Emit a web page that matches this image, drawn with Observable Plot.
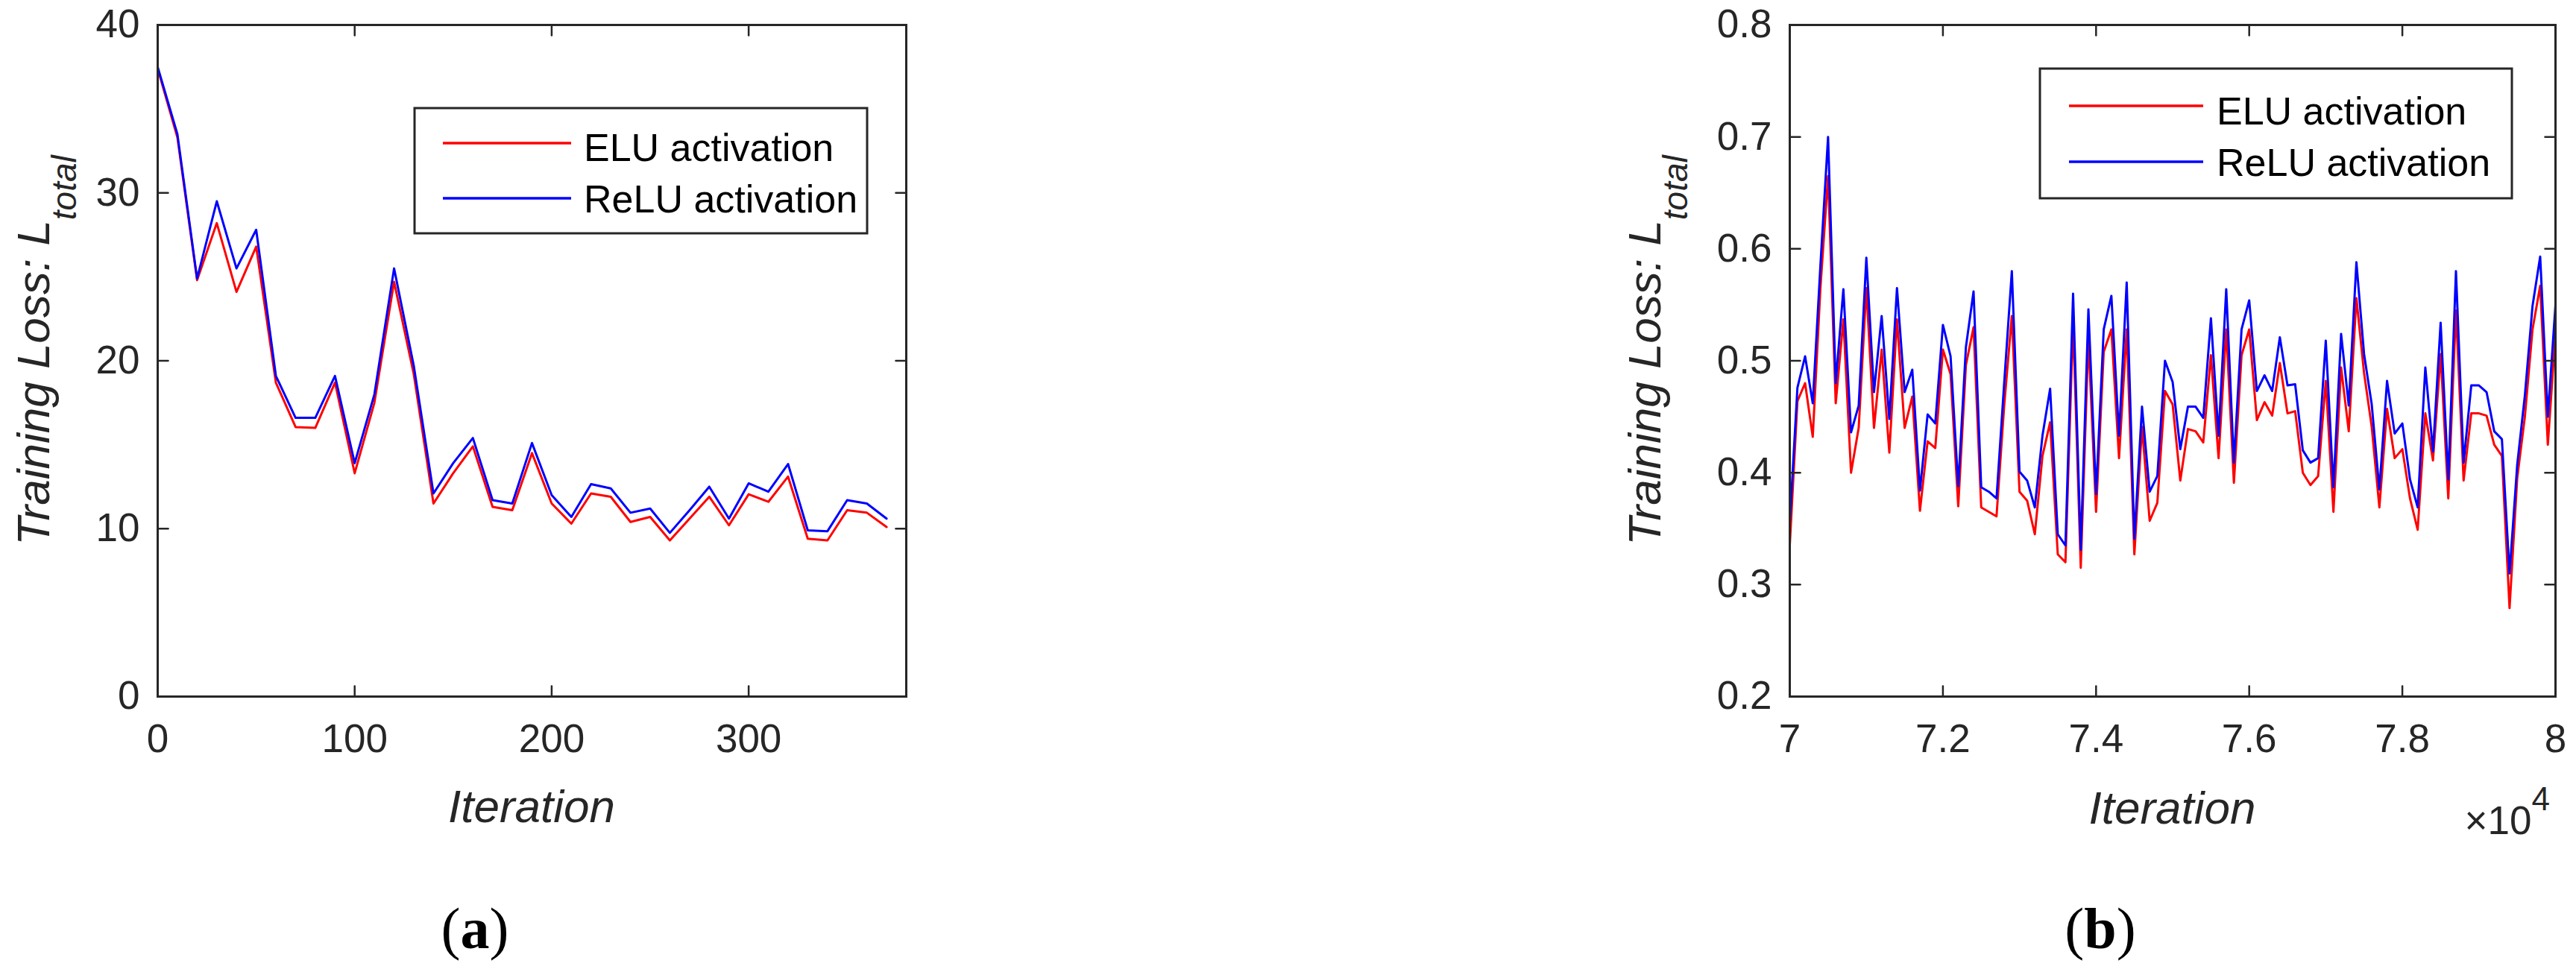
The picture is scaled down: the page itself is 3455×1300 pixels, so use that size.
<!DOCTYPE html>
<html>
<head>
<meta charset="utf-8">
<script src="https://cdn.jsdelivr.net/npm/d3@7"></script>
<script src="https://cdn.jsdelivr.net/npm/@observablehq/plot@0.6"></script>
<style>
  html, body { margin: 0; padding: 0; background: #fff; }
  #page { position: relative; width: 3455px; height: 1300px; overflow: hidden; background: #fff; }
  .panel { position: absolute; top: 0; }
  .cap { position: absolute; top: 1207px; font-family: "Liberation Serif", "Times New Roman", serif; font-size: 78px; color: #000; transform: translateX(-50%); line-height: 1; white-space: nowrap; }
  .cap b { font-weight: bold; }
</style>
</head>
<body>
<div id="page">
  <div class="panel" id="left" style="left:0px"></div>
  <div class="panel" id="right" style="left:2100px"></div>
  <div class="cap" style="left:637px">(<b>a</b>)</div>
  <div class="cap" style="left:2817px">(<b>b</b>)</div>
</div>
<script>
// ---------- data: panel (a) ----------
const iterA = [0,10,20,30,40,50,60,70,80,90,100,110,120,130,140,150,160,170,180,190,200,210,220,230,240,250,260,270,280,290,300,310,320,330,340,350,360,370];
const eluA  = [37.4,33.3,24.8,28.2,24.1,26.8,18.7,16.05,16.0,18.7,13.3,17.5,24.7,19.2,11.5,13.3,14.9,11.3,11.1,14.5,11.5,10.3,12.1,11.9,10.4,10.7,9.3,10.6,11.9,10.2,12.05,11.6,13.1,9.4,9.3,11.1,10.95,10.1];
const reluA = [37.5,33.5,24.9,29.5,25.5,27.8,19.1,16.6,16.6,19.1,13.9,18.0,25.5,19.7,12.1,13.9,15.4,11.7,11.5,15.1,12.0,10.7,12.65,12.4,10.95,11.2,9.75,11.1,12.5,10.6,12.7,12.2,13.85,9.9,9.85,11.7,11.5,10.6];
const xTicksA = [0,100,200,300];
const xTickLabelsA = ["0","100","200","300"];
const yTicksA = [0,10,20,30,40];
const yTickLabelsA = ["0","10","20","30","40"];

// ---------- data: panel (b) ----------
const iterB = [70000,70100,70200,70300,70400,70500,70600,70700,70800,70900,71000,71100,71200,71300,71400,71500,71600,71700,71800,71900,72000,72100,72200,72300,72400,72500,72600,72700,72800,72900,73000,73100,73200,73300,73400,73500,73600,73700,73800,73900,74000,74100,74200,74300,74400,74500,74600,74700,74800,74900,75000,75100,75200,75300,75400,75500,75600,75700,75800,75900,76000,76100,76200,76300,76400,76500,76600,76700,76800,76900,77000,77100,77200,77300,77400,77500,77600,77700,77800,77900,78000,78100,78200,78300,78400,78500,78600,78700,78800,78900,79000,79100,79200,79300,79400,79500,79600,79700,79800,79900,80000];
const eluB = [0.335,0.464,0.48,0.432,0.565,0.665,0.462,0.537,0.40,0.44,0.565,0.44,0.51,0.418,0.537,0.44,0.468,0.366,0.428,0.422,0.51,0.488,0.37,0.496,0.53,0.369,0.365,0.361,0.46,0.54,0.383,0.375,0.345,0.415,0.445,0.327,0.32,0.535,0.315,0.52,0.365,0.508,0.528,0.413,0.528,0.327,0.441,0.357,0.373,0.473,0.461,0.393,0.439,0.437,0.427,0.505,0.413,0.528,0.391,0.505,0.528,0.447,0.463,0.451,0.498,0.453,0.455,0.40,0.389,0.397,0.482,0.365,0.494,0.437,0.556,0.489,0.441,0.369,0.457,0.413,0.421,0.377,0.349,0.453,0.411,0.506,0.377,0.545,0.393,0.453,0.453,0.451,0.425,0.415,0.279,0.395,0.45,0.528,0.567,0.425,0.525];
const reluB = [0.355,0.476,0.504,0.462,0.585,0.70,0.48,0.564,0.436,0.46,0.592,0.472,0.54,0.448,0.565,0.472,0.492,0.384,0.452,0.444,0.532,0.504,0.388,0.512,0.562,0.387,0.383,0.377,0.48,0.58,0.401,0.393,0.369,0.433,0.475,0.345,0.335,0.56,0.331,0.546,0.381,0.528,0.558,0.433,0.570,0.341,0.459,0.383,0.397,0.50,0.481,0.421,0.459,0.459,0.449,0.538,0.433,0.564,0.409,0.528,0.554,0.473,0.487,0.473,0.521,0.478,0.479,0.42,0.409,0.413,0.518,0.387,0.524,0.46,0.588,0.506,0.461,0.385,0.482,0.435,0.444,0.394,0.369,0.494,0.419,0.534,0.394,0.58,0.409,0.478,0.478,0.472,0.437,0.43,0.31,0.407,0.469,0.549,0.593,0.45,0.55];
const xTicksB = [70000,72000,74000,76000,78000,80000];
const xTickLabelsB = ["7","7.2","7.4","7.6","7.8","8"];
const yTicksB = [0.2,0.3,0.4,0.5,0.6,0.7,0.8];
const yTickLabelsB = ["0.2","0.3","0.4","0.5","0.6","0.7","0.8"];

const seriesNames = ["ELU activation", "ReLU activation"];
const seriesColors = ["#ff0000", "#0000ff"];

// ---------- drawing ----------
const AX = "#262626";
const SANS = '"Liberation Sans", Arial, Helvetica, sans-serif';
const tickShape = {draw(context, l) { context.moveTo(0, 0); context.lineTo(0, -l); }};

function labelFor(ticks, labels) { return d => labels[ticks.indexOf(d)] ?? ""; }

function makePanel(cfg) {
  const rowsE = cfg.iter.map((x, i) => ({x, y: cfg.elu[i]}));
  const rowsR = cfg.iter.map((x, i) => ({x, y: cfg.relu[i]}));
  const tl = 14, tw = 2.5;
  const svg = Plot.plot({
    width: cfg.width, height: cfg.height,
    marginLeft: cfg.ml, marginRight: cfg.mr, marginTop: cfg.mt, marginBottom: cfg.mb,
    style: {fontFamily: SANS, fontSize: "53px", color: AX, background: "#fff", overflow: "visible"},
    x: {domain: cfg.xDomain, nice: false},
    y: {domain: cfg.yDomain, nice: false},
    marks: [
      Plot.line(rowsE, {x: "x", y: "y", stroke: seriesColors[0], strokeWidth: 3}),
      Plot.line(rowsR, {x: "x", y: "y", stroke: seriesColors[1], strokeWidth: 3}),
      Plot.axisX({ticks: cfg.xTicks, tickFormat: labelFor(cfg.xTicks, cfg.xLabels), tickSize: 0, tickPadding: 37, label: null, fill: AX}),
      Plot.axisY({ticks: cfg.yTicks, tickFormat: labelFor(cfg.yTicks, cfg.yLabels), tickSize: 0, tickPadding: 24, label: null, fill: AX}),
      Plot.vector(cfg.xTicks, {x: d => d, frameAnchor: "bottom", rotate: 0, length: tl, anchor: "start", shape: tickShape, stroke: AX, strokeWidth: tw}),
      Plot.vector(cfg.xTicks, {x: d => d, frameAnchor: "top", rotate: 180, length: tl, anchor: "start", shape: tickShape, stroke: AX, strokeWidth: tw}),
      Plot.vector(cfg.yTicks, {y: d => d, frameAnchor: "left", rotate: 90, length: tl, anchor: "start", shape: tickShape, stroke: AX, strokeWidth: tw}),
      Plot.vector(cfg.yTicks, {y: d => d, frameAnchor: "right", rotate: -90, length: tl, anchor: "start", shape: tickShape, stroke: AX, strokeWidth: tw}),
      Plot.frame({stroke: AX, strokeWidth: 3})
    ]
  });
  const s = d3.select(svg);
  const fx0 = cfg.ml, fx1 = cfg.width - cfg.mr;
  // y label with subscript
  const yl = s.append("text")
    .attr("transform", `translate(${cfg.yLabelX},${cfg.yLabelY}) rotate(-90)`)
    .attr("text-anchor", "middle").attr("fill", AX)
    .style("font-family", SANS).style("font-style", "italic").style("font-size", "62px");
  yl.append("tspan").text("Training Loss: L");
  yl.append("tspan").attr("dy", 36).style("font-size", "46px").text("total");
  // x label
  s.append("text").attr("x", (fx0 + fx1) / 2).attr("y", cfg.xLabelY)
    .attr("text-anchor", "middle").attr("fill", AX)
    .style("font-family", SANS).style("font-style", "italic").style("font-size", "62px")
    .text("Iteration");
  // exponent
  if (cfg.exponent) {
    const ex = s.append("text").attr("x", fx1 - 7).attr("y", cfg.xLabelY + 14)
      .attr("text-anchor", "end").attr("fill", AX)
      .style("font-family", SANS).style("font-size", "53px");
    ex.append("tspan").text("\u00d710");
    ex.append("tspan").attr("dy", -32).style("font-size", "44px").text(cfg.exponent);
  }
  // legend
  const L = cfg.legend;
  const g = s.append("g");
  g.append("rect").attr("x", L.x).attr("y", L.y).attr("width", L.w).attr("height", L.h)
    .attr("fill", "#fff").attr("stroke", AX).attr("stroke-width", 3);
  seriesNames.forEach((name, i) => {
    g.append("line").attr("x1", L.lx0).attr("x2", L.lx1).attr("y1", L.ly[i]).attr("y2", L.ly[i])
      .attr("stroke", seriesColors[i]).attr("stroke-width", 3.5);
    g.append("text").attr("x", L.tx).attr("y", L.ty[i]).attr("fill", "#000")
      .attr("text-anchor", "start")
      .style("font-family", SANS).style("font-size", "52px").text(name);
  });
  return svg;
}

document.getElementById("left").appendChild(makePanel({
  iter: iterA, elu: eluA, relu: reluA,
  xDomain: [0, 380], yDomain: [0, 40],
  xTicks: xTicksA, xLabels: xTickLabelsA, yTicks: yTicksA, yLabels: yTickLabelsA,
  width: 1300, height: 1160, ml: 211, mr: 85, mt: 33, mb: 226,
  yLabelX: 66, yLabelY: 470, xLabelY: 1103,
  legend: {x: 556, y: 145, w: 607, h: 168, lx0: 594, lx1: 766, ly: [192, 266], tx: 783, ty: [216, 285]}
}));

document.getElementById("right").appendChild(makePanel({
  iter: iterB, elu: eluB, relu: reluB,
  xDomain: [70000, 80000], yDomain: [0.2, 0.8],
  xTicks: xTicksB, xLabels: xTickLabelsB, yTicks: yTicksB, yLabels: yTickLabelsB,
  width: 1355, height: 1160, ml: 300, mr: 28, mt: 33, mb: 226,
  yLabelX: 127, yLabelY: 470, xLabelY: 1105, exponent: "4",
  legend: {x: 636, y: 92, w: 633, h: 174, lx0: 675, lx1: 855, ly: [142, 217], tx: 873, ty: [167, 236]}
}));
</script>
</body>
</html>
